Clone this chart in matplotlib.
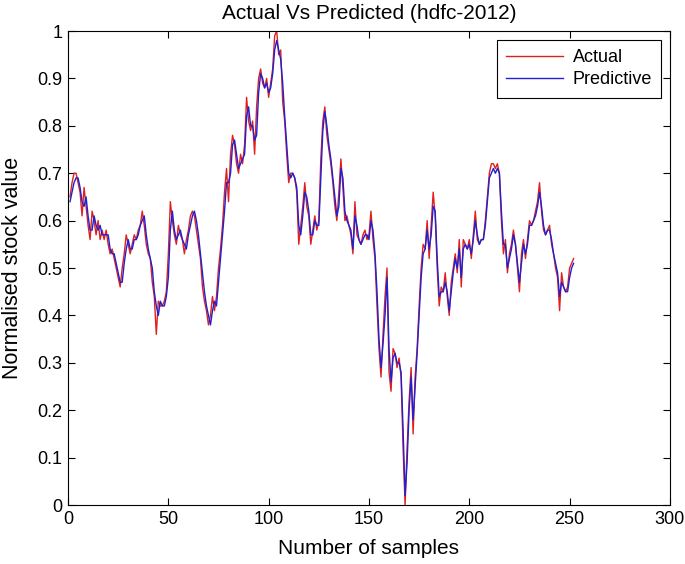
import matplotlib
matplotlib.use("Agg")
import matplotlib.pyplot as plt
import numpy as np

plt.rcParams['font.family'] = ['Liberation Sans', 'DejaVu Sans']

actual = [
    0.65, 0.68, 0.70, 0.70, 0.68, 0.66, 0.61, 0.67, 0.63, 0.59,
    0.56, 0.62, 0.60, 0.57, 0.60, 0.56, 0.58, 0.56, 0.58, 0.55,
    0.53, 0.54, 0.52, 0.50, 0.48, 0.46, 0.50, 0.53, 0.57, 0.55,
    0.53, 0.55, 0.57, 0.56, 0.58, 0.59, 0.62, 0.59, 0.55, 0.53,
    0.52, 0.47, 0.44, 0.36, 0.43, 0.42, 0.42, 0.43, 0.45, 0.53,
    0.64, 0.60, 0.57, 0.55, 0.59, 0.57, 0.56, 0.53, 0.56, 0.58,
    0.61, 0.62, 0.61, 0.58, 0.55, 0.52, 0.46, 0.43, 0.41, 0.38,
    0.40, 0.44, 0.41, 0.44, 0.50, 0.54, 0.59, 0.66, 0.71, 0.64,
    0.74, 0.78, 0.76, 0.72, 0.70, 0.74, 0.72, 0.76, 0.86, 0.81,
    0.79, 0.81, 0.74, 0.84, 0.90, 0.92, 0.89, 0.88, 0.90, 0.86,
    0.89, 0.92, 0.99, 1.00, 0.95, 0.96, 0.85, 0.81, 0.74, 0.68,
    0.70, 0.70, 0.69, 0.66, 0.55, 0.59, 0.63, 0.68, 0.63, 0.61,
    0.55, 0.58, 0.61, 0.58, 0.60, 0.73, 0.81, 0.84, 0.78, 0.75,
    0.72, 0.68, 0.63, 0.60, 0.66, 0.73, 0.67, 0.60, 0.61, 0.59,
    0.57, 0.53, 0.64, 0.57, 0.56, 0.55, 0.57, 0.58, 0.56, 0.57,
    0.62, 0.56, 0.52, 0.42, 0.33, 0.27, 0.36, 0.44, 0.50, 0.28,
    0.24, 0.33, 0.32, 0.29, 0.31, 0.27, 0.12, 0.00, 0.12, 0.22,
    0.29, 0.15, 0.27, 0.33, 0.42, 0.50, 0.55, 0.54, 0.60, 0.52,
    0.59, 0.66, 0.61, 0.50, 0.42, 0.46, 0.45, 0.49, 0.44, 0.40,
    0.47, 0.50, 0.53, 0.49, 0.56, 0.46, 0.56, 0.55, 0.54, 0.56,
    0.52, 0.57, 0.62, 0.56, 0.55, 0.56, 0.56, 0.60, 0.65, 0.70,
    0.72, 0.72, 0.71, 0.72, 0.70, 0.60, 0.53, 0.56, 0.49, 0.53,
    0.55, 0.58, 0.55, 0.50, 0.45, 0.53, 0.56, 0.52, 0.56, 0.60,
    0.59, 0.60, 0.62, 0.64, 0.68, 0.62, 0.58, 0.57, 0.58, 0.59,
    0.55, 0.53, 0.50, 0.48, 0.41, 0.49, 0.46, 0.45, 0.46, 0.50,
    0.51, 0.52,
]

predicted = [
    0.64, 0.66, 0.68, 0.69, 0.69, 0.67, 0.64, 0.63, 0.65, 0.61,
    0.58, 0.58, 0.61, 0.59, 0.58, 0.59, 0.57, 0.57, 0.57, 0.57,
    0.54, 0.53, 0.53, 0.51, 0.49, 0.47, 0.47, 0.51, 0.54, 0.56,
    0.54, 0.54, 0.56, 0.56, 0.57, 0.59, 0.60, 0.61, 0.57, 0.54,
    0.52, 0.50, 0.45, 0.42, 0.40, 0.43, 0.42, 0.42, 0.44, 0.48,
    0.58, 0.62, 0.58, 0.56, 0.57, 0.58, 0.56, 0.55, 0.54, 0.57,
    0.59, 0.61, 0.62, 0.60, 0.57, 0.53, 0.49, 0.45, 0.42, 0.40,
    0.38, 0.41, 0.43, 0.42, 0.47, 0.52, 0.57, 0.62, 0.68, 0.68,
    0.70, 0.76, 0.77, 0.74, 0.71, 0.72, 0.73, 0.74, 0.82, 0.84,
    0.80, 0.80, 0.77, 0.78, 0.87, 0.91, 0.90, 0.88, 0.89, 0.87,
    0.88, 0.91, 0.96, 0.98, 0.96, 0.94, 0.89, 0.82, 0.76, 0.70,
    0.69, 0.70, 0.69, 0.67, 0.59, 0.57, 0.61, 0.66, 0.65, 0.62,
    0.57, 0.57, 0.60, 0.59, 0.59, 0.69, 0.79, 0.83, 0.80, 0.76,
    0.73, 0.69, 0.65, 0.61, 0.63, 0.71, 0.69, 0.62, 0.60, 0.59,
    0.58, 0.54, 0.61, 0.59, 0.56, 0.55, 0.56, 0.57, 0.57, 0.56,
    0.60, 0.58, 0.53, 0.45, 0.35, 0.29, 0.34, 0.40, 0.48, 0.33,
    0.26, 0.31, 0.32, 0.30, 0.30, 0.28, 0.16, 0.02, 0.09, 0.20,
    0.27, 0.18, 0.25, 0.32, 0.40, 0.48, 0.53, 0.54, 0.58, 0.54,
    0.57, 0.63, 0.62, 0.52, 0.44, 0.45, 0.45, 0.47, 0.45, 0.41,
    0.45, 0.49, 0.52, 0.50, 0.54, 0.48, 0.54, 0.55, 0.54, 0.55,
    0.53, 0.56, 0.60, 0.57, 0.55, 0.56, 0.56, 0.59, 0.64, 0.69,
    0.70, 0.71, 0.70, 0.71, 0.70, 0.62, 0.55, 0.55, 0.50, 0.52,
    0.54, 0.57, 0.55, 0.51, 0.47, 0.51, 0.55, 0.53, 0.55, 0.59,
    0.59, 0.60, 0.61, 0.63, 0.66, 0.63, 0.59, 0.57, 0.58, 0.58,
    0.56, 0.53, 0.51, 0.49, 0.44, 0.47, 0.46, 0.45, 0.45, 0.48,
    0.50, 0.51,
]

samples = np.arange(1, len(actual) + 1)
xticks = [0, 50, 100, 150, 200, 250, 300]
yticks = [0, 0.1, 0.2, 0.3, 0.4, 0.5, 0.6, 0.7, 0.8, 0.9, 1]
ytick_labels = ['0', '0.1', '0.2', '0.3', '0.4', '0.5', '0.6', '0.7', '0.8', '0.9', '1']

fig = plt.figure(figsize=(6.85, 5.64), dpi=100)
ax = fig.add_axes([0.0993, 0.1046, 0.8787, 0.8404])

ax.plot(samples, actual, color='#e02020', lw=1.0, label='Actual')
ax.plot(samples, predicted, color='#2020d0', lw=1.0, label='Predictive')

ax.set_xlim(0, 300)
ax.set_ylim(0, 1)
ax.set_xticks(xticks)
ax.set_xticklabels([str(t) for t in xticks])
ax.set_yticks(yticks)
ax.set_yticklabels(ytick_labels)
ax.tick_params(direction='in', top=True, right=True, labelsize=13, length=5, pad=4)

ax.set_title('Actual Vs Predicted (hdfc-2012)', fontsize=15, pad=9)
ax.set_xlabel('Number of samples', fontsize=15, labelpad=8)
ax.set_ylabel('Normalised stock value', fontsize=15.5, labelpad=10)

leg = ax.legend(loc='upper right', fontsize=13, fancybox=False, framealpha=1,
                edgecolor='black', borderaxespad=0.5, handlelength=3.2,
                handletextpad=0.5, borderpad=0.5, labelspacing=0.3)
leg.get_frame().set_linewidth(0.8)

fig.savefig('out.png', dpi=100)
